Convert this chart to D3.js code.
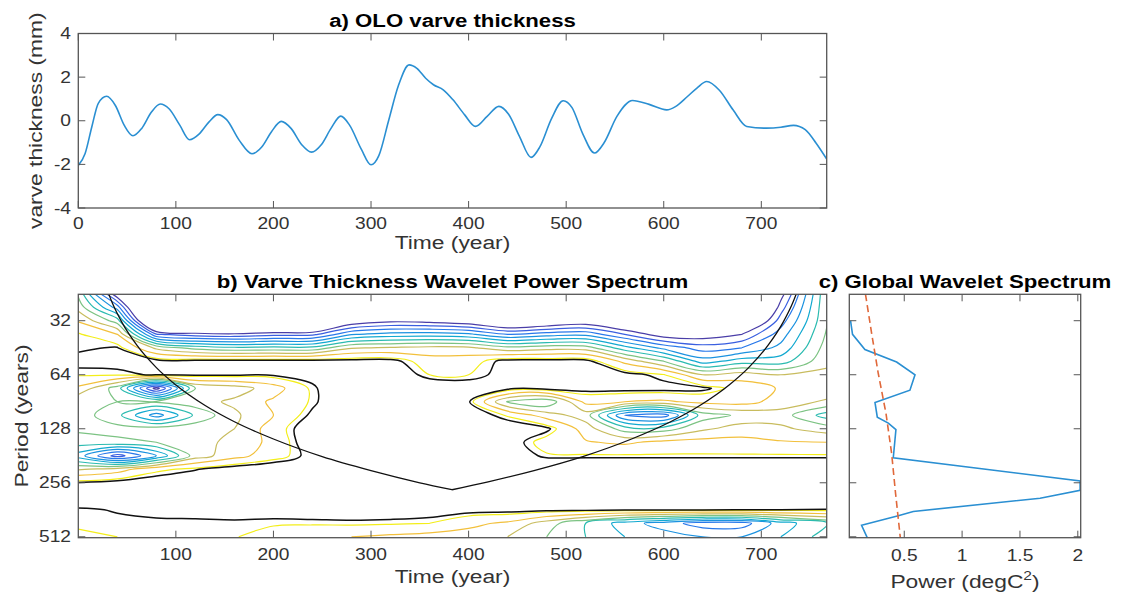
<!DOCTYPE html>
<html>
<head>
<meta charset="utf-8">
<script src="https://cdnjs.cloudflare.com/ajax/libs/d3/7.8.5/d3.min.js"></script>
<style>
  body { margin: 0; background: #fff; }
  svg { font-family: "Liberation Sans", Arial, Helvetica, sans-serif; }
</style>
</head>
<body>
<svg id="chart" width="1126" height="598"></svg>
<script>
// ---- a) OLO varve thickness (read off the curve) ----
var varveYears = [0, 7, 14, 20.5, 29, 38, 47, 56, 65, 75, 84, 93, 104, 114, 124, 134, 143, 152, 165, 178,
  188, 198, 208, 218, 229, 239, 249, 259, 269, 278, 290, 300, 308, 318, 328, 339, 347, 356, 364, 374,
  384, 396, 407, 419, 431, 441, 452, 464, 473, 485, 497, 506, 517, 529, 539, 552, 568, 585, 603, 612,
  624, 634, 644, 657, 671, 685, 705, 720, 733, 745, 756, 767];
var varveMm = [-2.05, -1.5, -0.25, 0.8, 1.12, 0.7, -0.2, -0.69, -0.35, 0.4, 0.77, 0.55, -0.2, -0.87, -0.6, -0.05, 0.28, 0.05, -0.9, -1.51,
  -1.2, -0.5, -0.03, -0.35, -1.1, -1.44, -1.1, -0.35, 0.21, -0.2, -1.3, -2.02, -1.6, 0.0, 1.6, 2.56, 2.4, 1.95, 1.65, 1.42,
  0.96, 0.27, -0.26, 0.2, 0.66, 0.3, -0.7, -1.68, -1.2, 0.1, 0.92, 0.6, -0.6, -1.48, -1.0, 0.2, 0.93, 0.75, 0.5, 0.65,
  1.1, 1.5, 1.8, 1.4, 0.5, -0.26, -0.34, -0.3, -0.21, -0.41, -1.02, -1.76];

var timeTicks = [0, 100, 200, 300, 400, 500, 600, 700];
var varveTicks = [-4, -2, 0, 2, 4];

// ---- b) wavelet power, in contour-level units (rows = period, cols = year) ----
var gridYears = [0, 40, 80, 120, 160, 200, 240, 280, 320, 360, 400, 440, 480, 520, 560, 600, 640, 680, 720, 768];
var gridPeriods = [22.6, 26.9, 32, 38.1, 45.3, 53.8, 64, 76.1, 90.5, 107.6, 128, 152.2, 181, 215.3, 256, 304.4, 362, 430.5, 512];
var powerGrid = [
  [6.8, 0.0, -8, -9, -9, -9, -9, -7, -6.5, -6.5, -7, -8, -7.5, -7, -8, -9, -9, -8, 0.5, 7.0],
  [7.6, 3.5, -6, -6.5, -6.5, -6, -6, -4, -3.3, -3.5, -4, -5, -4.5, -4, -5, -6, -6, -5, 1.5, 7.0],
  [8.9, 6.5, -3.5, -3.8, -3.8, -3.1, -2.9, -0.1, 0.7, 0.5, 0, -1.2, -0.6, 0, -1.3, -3, -3, -2, 2.5, 7.0],
  [10.1, 9.0, 2.1, 1.4, 1.2, 1.6, 1.7, 3.9, 4.4, 4.5, 4.2, 3.0, 3.5, 3.7, 2.0, 0.3, 0.3, 1.0, 3.5, 7.2],
  [10.2, 10.35, 7.75, 6.6, 6.2, 6.3, 6.3, 7.9, 8.1, 8.3, 8.2, 7.3, 7.6, 7.5, 5.4, 3.7, 2.5, 3.0, 4.3, 7.5],
  [10.5, 10.6, 10.6, 10.6, 10.6, 10.6, 10.6, 10.6, 10.6, 9.5, 9.6, 10.6, 10.6, 10.6, 8.7, 7.0, 4.5, 5.5, 5.5, 7.8],
  [10.1, 10.1, 10.4, 10.4, 10.4, 10.4, 10.5, 11, 11, 10.0, 10.0, 10.6, 10.6, 10.6, 10.6, 10.05, 8.0, 8.5, 8.0, 8.2],
  [8.8, 6.5, 0.5, 7.0, 7.5, 8.5, 10.2, 11, 11.2, 11, 10.8, 10.6, 10.6, 10.6, 10.6, 10.6, 10.5, 9.6, 8.9, 8.8],
  [7.1, 7.0, 7.2, 7.6, 8.2, 9.2, 10.1, 11.5, 11.5, 11.5, 10.4, 6.9, 6.2, 9.3, 9.0, 8.8, 9.3, 9.4, 8.6, 7.8],
  [7.5, 6.3, 3.5, 6.2, 7.8, 9.0, 10.5, 11.5, 11.5, 11.5, 11, 9.9, 8.5, 7.5, 3.0, 2.5, 6.5, 7.2, 7.5, 5.5],
  [7.2, 7.3, 7.5, 7.6, 8.0, 9.5, 11, 11.5, 11.5, 11.5, 11.5, 11, 10.5, 8.5, 6.5, 6.5, 7.8, 8.5, 8.2, 7.5],
  [6.5, 6.8, 7.0, 7.6, 8.3, 9.3, 11, 11.5, 11.5, 11.5, 11.5, 10.8, 9.6, 9.1, 8.8, 9.3, 9.4, 9.3, 9.1, 9.0],
  [4.5, 1.5, 4.0, 7.5, 8.6, 9.6, 10.6, 11.5, 11.5, 11.5, 11.5, 11, 10.1, 10.1, 10.1, 10.1, 10.1, 10.1, 10.1, 10.1],
  [7.9, 8.5, 9.8, 10.25, 10.8, 11, 11.5, 11.5, 11.5, 11.5, 11.5, 11.5, 11.5, 11.5, 11.5, 11.5, 11.5, 11.5, 11.5, 11.5],
  [10.35, 10.6, 10.8, 11, 11.5, 11.5, 11.5, 11.5, 11.5, 11.5, 11.5, 11.5, 11.5, 11.5, 11.5, 11.5, 11.5, 11.5, 11.5, 11.5],
  [11, 11.5, 11.5, 11.5, 11.5, 11.5, 11.5, 11.5, 11.5, 11.5, 11.5, 11.5, 11.5, 11.5, 11.5, 11.5, 11.5, 11.5, 11.5, 11.5],
  [10.2, 10.35, 10.45, 10.5, 10.6, 10.7, 10.8, 10.8, 10.8, 10.7, 10.6, 10.6, 10.5, 10.5, 10.4, 10.4, 10.4, 10.35, 10.3, 10.25],
  [10.15, 10.15, 10.2, 10.2, 10.2, 10.1, 10.1, 10.15, 10.1, 10.0, 9.3, 8.8, 7.5, 6.0, 4.5, 3.5, 2.5, 2.5, 4.5, 6.0],
  [9.8, 10.0, 10.1, 10.1, 10.05, 9.6, 9.3, 9.0, 8.8, 8.6, 8.5, 8.0, 7.0, 6.0, 5.0, 4.5, 4.0, 4.0, 5.0, 6.5]
];
var contourLevels = [1, 2, 3, 4, 5, 6, 7, 8, 9, 10];
var levelColors = ["#4a3ea8", "#3a5fe0", "#2878ea", "#1b92e0", "#12a9d0", "#2bbbb0", "#7cc383", "#c8bc5e", "#f2c03c", "#f3ee1a"];
var sigLevel = 10.3;

// cone of influence (year, period)
var coiYears = [25, 35, 45, 60, 80, 100, 130, 160, 200, 250, 300, 350, 383, 420, 467, 517, 567, 607, 637, 667, 687, 707, 722, 732, 742];
var coiPeriods = [18.3, 25.6, 32.9, 43.8, 58.4, 73, 95, 117, 146, 183, 219, 256, 280, 253, 219, 183, 146, 117, 95, 73, 58.4, 43.8, 32.9, 25.6, 18.3];

var periodTicks = [32, 64, 128, 256, 512];
var timeTicksB = [100, 200, 300, 400, 500, 600, 700];

// ---- c) global wavelet spectrum ----
var gwsPeriods = [32.1, 38.1, 46.3, 54.4, 64, 78, 91.3, 110.3, 119.1, 129.5, 147, 186, 250, 282, 312, 370, 391, 442, 518];
var gwsPower = [0.036, 0.053, 0.16, 0.434, 0.593, 0.549, 0.247, 0.267, 0.362, 0.428, 0.42, 0.405, 2.02, 2.02, 1.674, 0.578, 0.448, 0.131, 0.18];
var sigPeriods = [22.8, 37.6, 62.8, 105, 176, 294, 518];
var sigPower = [0.165, 0.218, 0.275, 0.342, 0.391, 0.425, 0.466];
var powerTicks = [0.5, 1, 1.5, 2];


var svg = d3.select("#chart");
var STRETCH = 1.2;
var axisColor = "#555555";
var textColor = "#333333";
var blue = "#2a8fd2";
var TICK = 7;

var boxA = {left: 78.3, right: 826.7, top: 33.5, bottom: 208};
var boxB = {left: 78.3, right: 826.7, top: 294.3, bottom: 537.7};
var boxC = {left: 849.3, right: 1080.7, top: 294.3, bottom: 537.7};

var xA = d3.scaleLinear().domain([0, 767]).range([boxA.left, boxA.right]);
var yA = d3.scaleLinear().domain([-4, 4]).range([boxA.bottom, boxA.top]);
var xB = d3.scaleLinear().domain([0, 767]).range([boxB.left, boxB.right]);
var yB = d3.scaleLog().base(2).domain([22.8, 518]).range([boxB.top, boxB.bottom]);
var xC = d3.scaleLinear().domain([0.025, 2.025]).range([boxC.left, boxC.right]);
var yC = d3.scaleLog().base(2).domain([22.8, 518]).range([boxC.top, boxC.bottom]);

var defs = svg.append("defs");
function clip(id, box) {
  defs.append("clipPath").attr("id", id).append("rect")
    .attr("x", box.left).attr("y", box.top)
    .attr("width", box.right - box.left).attr("height", box.bottom - box.top);
}
clip("clipA", boxA); clip("clipB", boxB); clip("clipC", boxC);

// text with the wide look of the original
function addText(x, y, str, size, anchor, opts) {
  opts = opts || {};
  var t = svg.append("text")
    .attr("transform", "translate(" + x + "," + y + ")" + (opts.rotate ? " rotate(-90)" : "") + " scale(" + STRETCH + ",1)")
    .attr("text-anchor", anchor)
    .attr("font-size", size)
    .attr("fill", opts.color || textColor)
    .attr("font-weight", opts.bold ? "bold" : "normal");
  if (opts.dy) t.attr("dy", opts.dy);
  t.text(str);
  return t;
}

function frame(box, xs, xv, ys, yv) {
  var g = svg.append("g").attr("stroke", axisColor).attr("stroke-width", 1).attr("fill", "none");
  xv.forEach(function(v) {
    var x = xs(v);
    g.append("line").attr("x1", x).attr("x2", x).attr("y1", box.bottom).attr("y2", box.bottom - TICK);
    g.append("line").attr("x1", x).attr("x2", x).attr("y1", box.top).attr("y2", box.top + TICK);
  });
  yv.forEach(function(v) {
    var y = ys(v);
    g.append("line").attr("y1", y).attr("y2", y).attr("x1", box.left).attr("x2", box.left + TICK);
    g.append("line").attr("y1", y).attr("y2", y).attr("x1", box.right).attr("x2", box.right - TICK);
  });
  g.append("rect").attr("x", box.left).attr("y", box.top)
    .attr("width", box.right - box.left).attr("height", box.bottom - box.top)
    .attr("stroke-width", 1.3);
}

// ================= a) =================
var lineA = d3.line()
  .x(function(d, i) { return xA(varveYears[i]); })
  .y(function(d) { return yA(d); })
  .curve(d3.curveMonotoneX);

svg.append("path")
  .attr("clip-path", "url(#clipA)")
  .attr("d", lineA(varveMm))
  .attr("fill", "none")
  .attr("stroke", blue)
  .attr("stroke-width", 1.6);

frame(boxA, xA, timeTicks, yA, varveTicks);
timeTicks.forEach(function(v) { addText(xA(v), 229, String(v), 16, "middle"); });
varveTicks.forEach(function(v) { addText(71, yA(v), String(v), 16, "end", {dy: "0.35em"}); });
addText((boxA.left + boxA.right) / 2, 27, "a) OLO varve thickness", 18.5, "middle", {bold: true, color: "#000"});
addText((boxA.left + boxA.right) / 2, 249, "Time (year)", 19, "middle");
addText(42, (boxA.top + boxA.bottom) / 2, "varve thickness (mm)", 19, "middle", {rotate: true});

// ================= b) =================
var nx = gridYears.length, ny = gridPeriods.length;
var gridLog = gridPeriods.map(function(p) { return Math.log2(p); });
var flat = d3.merge(powerGrid);
var contourSets = d3.contours().size([nx, ny])
  .thresholds(contourLevels.concat([sigLevel]))(flat);

function interp(arr, c) {
  var i = Math.max(0, Math.min(arr.length - 1, c - 0.5));
  var i0 = Math.min(arr.length - 2, Math.floor(i));
  var f = i - i0;
  return arr[i0] + f * (arr[i0 + 1] - arr[i0]);
}
function toPx(p) {
  return [xB(interp(gridYears, p[0])), yB(Math.pow(2, interp(gridLog, p[1])))];
}
function onEdge(p) { return p[0] <= 0 || p[0] >= nx || p[1] <= 0 || p[1] >= ny; }

// contour rings -> open lines (drop the parts running along the grid border)
function ringPieces(ring) {
  var pts = ring.slice();
  var a = pts[0], b = pts[pts.length - 1];
  if (a[0] === b[0] && a[1] === b[1]) pts.pop();
  var k0 = pts.findIndex(onEdge);
  if (k0 < 0) return [{closed: true, pts: pts}];
  var n = pts.length, out = [], cur = [];
  for (var k = 1; k <= n; k++) {
    var p = pts[(k0 + k) % n];
    if (onEdge(p)) { if (cur.length > 1) out.push({closed: false, pts: cur}); cur = []; }
    else cur.push(p);
  }
  if (cur.length > 1) out.push({closed: false, pts: cur});
  return out;
}

var lineOpen = d3.line().curve(d3.curveCatmullRom.alpha(0.5));
var lineClosed = d3.line().curve(d3.curveCatmullRomClosed.alpha(0.5));

var gB = svg.append("g").attr("clip-path", "url(#clipB)").attr("fill", "none");
contourSets.forEach(function(c) {
  var isSig = c.value === sigLevel;
  var color = isSig ? "#111" : levelColors[contourLevels.indexOf(c.value)];
  c.coordinates.forEach(function(poly) {
    poly.forEach(function(ring) {
      ringPieces(ring).forEach(function(piece) {
        var px = piece.pts.map(toPx);
        gB.append("path")
          .attr("d", piece.closed ? lineClosed(px) : lineOpen(px))
          .attr("stroke", color)
          .attr("stroke-width", isSig ? 1.5 : 1.2)
          .attr("stroke-linejoin", "round");
      });
    });
  });
});

// cone of influence, two branches meeting at the V
var coiTop = d3.maxIndex(coiPeriods);
var coiLine = d3.line()
  .x(function(i) { return xB(coiYears[i]); })
  .y(function(i) { return yB(coiPeriods[i]); })
  .curve(d3.curveMonotoneX);
[d3.range(0, coiTop + 1), d3.range(coiTop, coiYears.length)].forEach(function(idx) {
  gB.append("path").attr("d", coiLine(idx))
    .attr("stroke", "#111").attr("stroke-width", 1.3);
});

frame(boxB, xB, timeTicksB, yB, periodTicks);
timeTicksB.forEach(function(v) { addText(xB(v), 560, String(v), 16, "middle"); });
periodTicks.forEach(function(v) { addText(71, yB(v), String(v), 16, "end", {dy: "0.35em"}); });
addText((boxB.left + boxB.right) / 2, 288, "b) Varve Thickness Wavelet Power Spectrum", 18.5, "middle", {bold: true, color: "#000"});
addText((boxB.left + boxB.right) / 2, 583, "Time (year)", 19, "middle");
addText(28, (boxB.top + boxB.bottom) / 2, "Period (years)", 19, "middle", {rotate: true});

// ================= c) =================
var gC = svg.append("g").attr("clip-path", "url(#clipC)").attr("fill", "none");
var lineC = d3.line()
  .x(function(d, i) { return xC(d); })
  .y(function(d, i) { return yC(gwsPeriods[i]); });
gC.append("path").attr("d", lineC(gwsPower))
  .attr("stroke", blue).attr("stroke-width", 1.6);

var sigLine = d3.line()
  .x(function(d) { return xC(d); })
  .y(function(d, i) { return yC(sigPeriods[i]); });
gC.append("path").attr("d", sigLine(sigPower))
  .attr("stroke", "#e0683a").attr("stroke-width", 1.6)
  .attr("stroke-dasharray", "7,4");

frame(boxC, xC, powerTicks, yC, periodTicks);
powerTicks.forEach(function(v) { addText(xC(v), 561, String(v), 16, "middle"); });
addText((boxC.left + boxC.right) / 2, 288, "c) Global Wavelet Spectrum", 18.5, "middle", {bold: true, color: "#000"});

var pl = addText((boxC.left + boxC.right) / 2, 588, "", 19, "middle");
pl.append("tspan").text("Power (degC");
pl.append("tspan").attr("dy", -8).attr("font-size", 13).text("2");
pl.append("tspan").attr("dy", 8).text(")");
</script>
</body>
</html>
